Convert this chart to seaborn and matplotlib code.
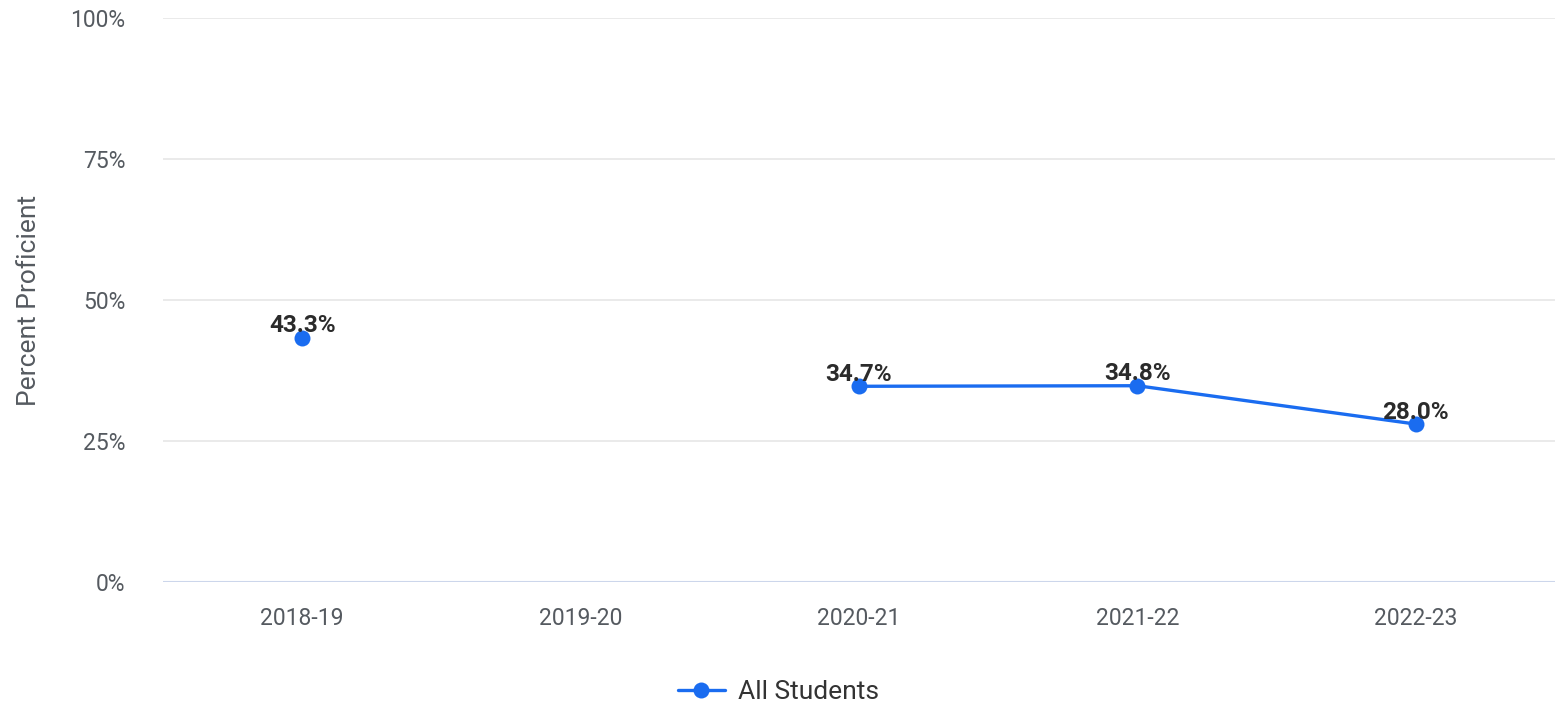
import numpy as np
import pandas as pd
import matplotlib.pyplot as plt
import seaborn as sns

# Datos
years = ['2018-19', '2019-20', '2020-21', '2021-22', '2022-23']
all_students = [43.3, np.nan, 34.7, 34.8, 28.0]
y_ticks = [0, 25, 50, 75, 100]

blue = '#1a6cf0'
gris = '#555a60'

df = pd.DataFrame({'year': years, 'pct': all_students})
df['pos'] = range(len(df))
# tramos separados donde falta un valor, para que la linea no los una
df['tramo'] = df['pct'].isna().cumsum()
df = df.dropna()

sns.set_style('white')
plt.rcParams['font.family'] = ['Roboto', 'DejaVu Sans']

fig = plt.figure(figsize=(15.57, 7.06), dpi=100)
ax = fig.add_axes([0.1047, 0.1756, 0.894, 0.799])

sns.lineplot(data=df, x='pos', y='pct', units='tramo', estimator=None,
             color=blue, linewidth=2.4, marker='o', markersize=11.5,
             markeredgewidth=0, ax=ax, legend=False)

# etiquetas de datos
for _, r in df.iterrows():
    ax.annotate(f"{r['pct']:.1f}%", (r['pos'], r['pct']), xytext=(0, 4),
                textcoords='offset points', ha='center', va='baseline',
                fontsize=17.5, fontweight='bold', color='#2b2b2b')

ax.set_xlim(-0.5, len(years) - 0.5)
ax.set_ylim(0, 100)
ax.set_xticks(range(len(years)))
ax.set_xticklabels(years)
ax.set_yticks(y_ticks)
ax.set_yticklabels([f'{t}%' for t in y_ticks])
ax.tick_params(axis='both', length=0, labelsize=16.5, labelcolor=gris)
ax.tick_params(axis='x', pad=18)
ax.tick_params(axis='y', pad=27)

for t in y_ticks[1:]:
    ax.axhline(t, color='#e6e6e6', linewidth=1.2, zorder=0)
ax.axhline(0, color='#ccd6eb', linewidth=1.5, zorder=0)
sns.despine(ax=ax, left=True, bottom=True)

ax.set_xlabel('')
ax.set_ylabel('Percent Proficient', fontsize=19, color=gris)
ax.yaxis.set_label_coords(-0.0875, 0.5)

h = plt.Line2D([], [], color=blue, linewidth=2.4, marker='o', markersize=11.5,
               markeredgewidth=0)
fig.legend([h], ['All Students'], loc='center', bbox_to_anchor=(0.5, 0.02),
           frameon=False, fontsize=19, labelcolor='#333333', handlelength=1.8,
           handletextpad=0.5)

plt.savefig('out.png', dpi=100)
